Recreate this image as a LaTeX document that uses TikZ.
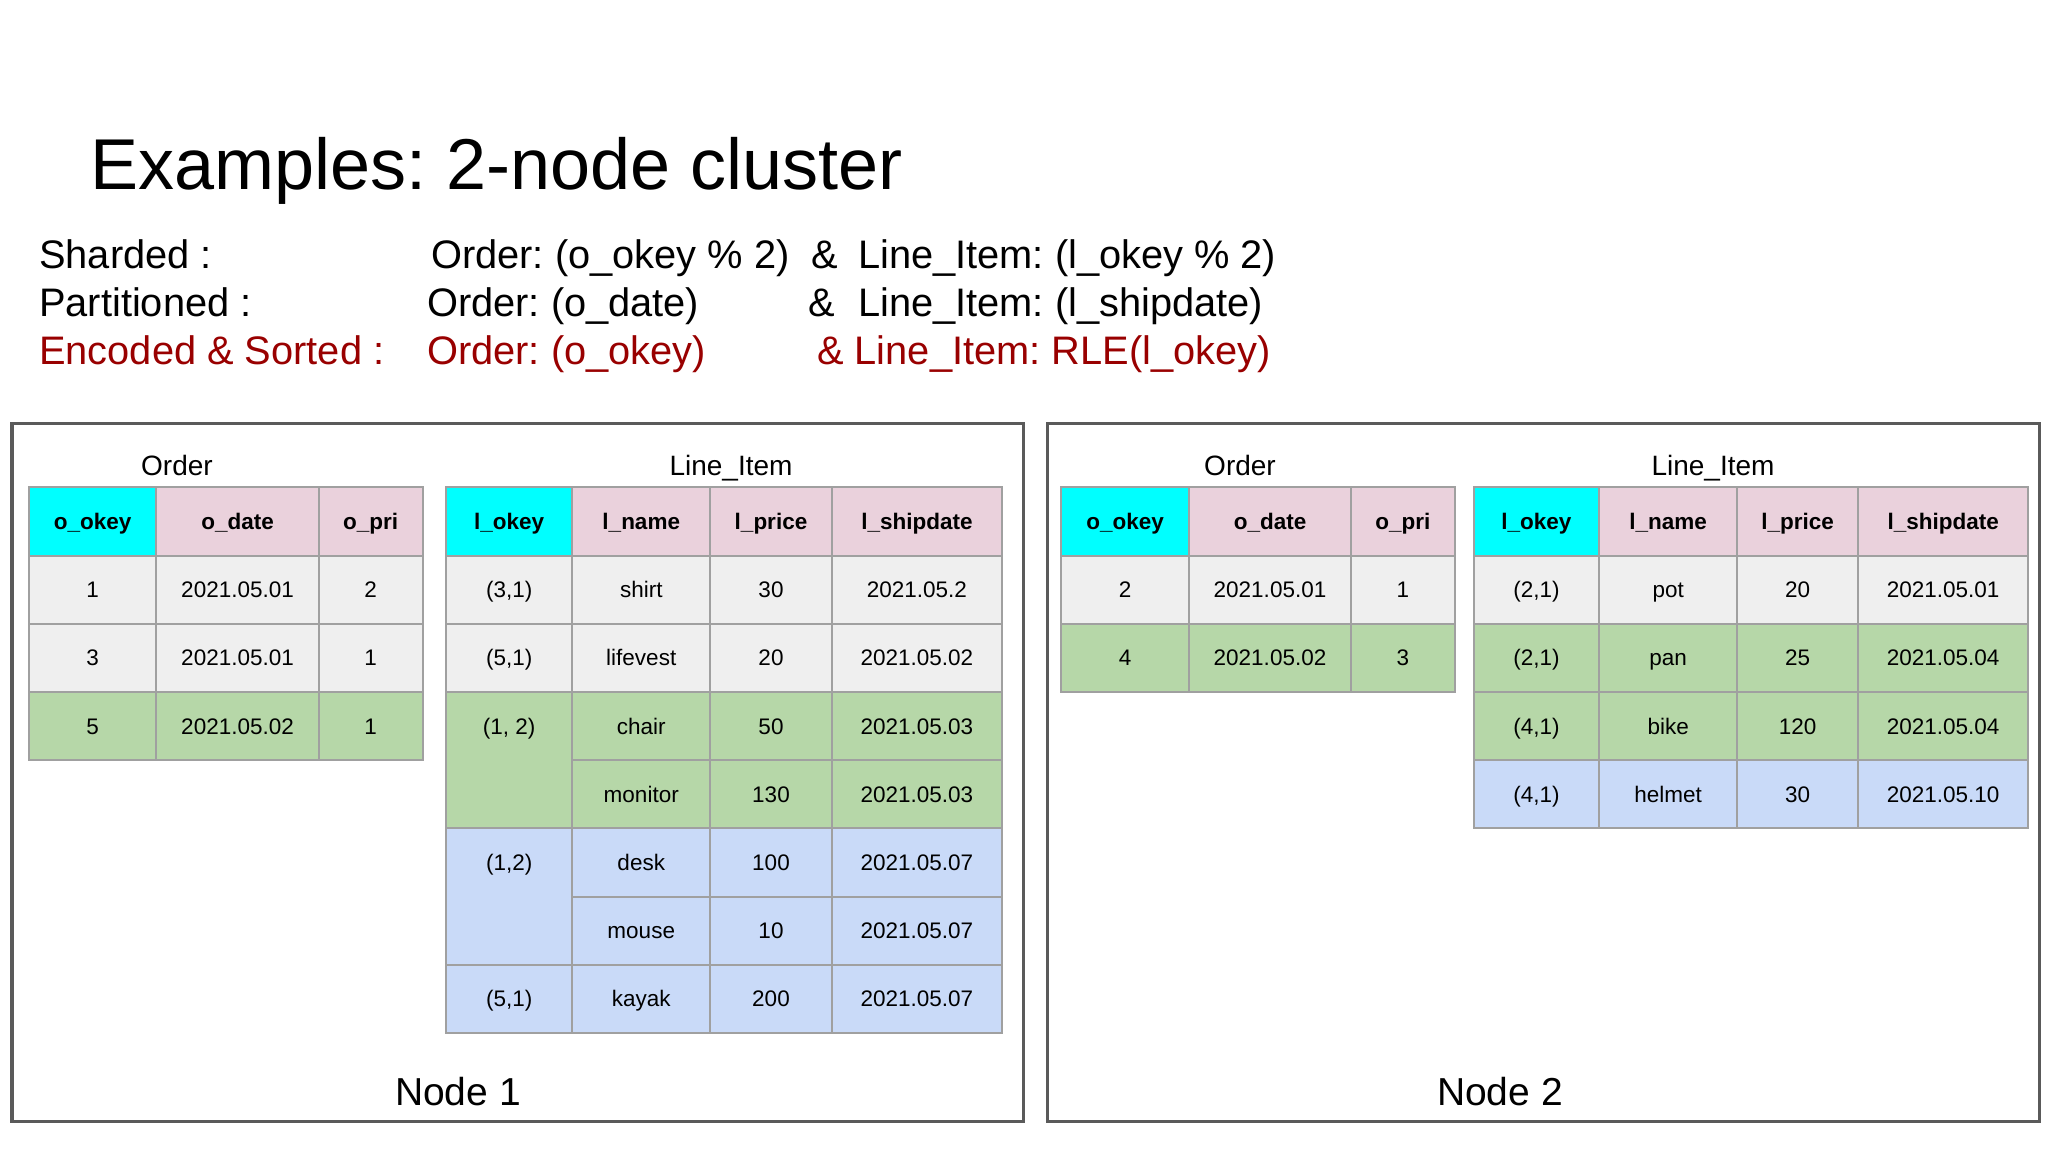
\documentclass[tikz,border=0pt]{standalone}
\usepackage{fontspec}
\setmainfont{Liberation Sans}
\frenchspacing
\definecolor{keycyan}{HTML}{00FFFF}
\definecolor{hdrpink}{HTML}{EAD1DC}
\definecolor{rowgray}{HTML}{EFEFEF}
\definecolor{rowgreen}{HTML}{B6D7A8}
\definecolor{rowblue}{HTML}{C9DAF8}
\definecolor{cellline}{HTML}{A0A0A0}
\definecolor{boxline}{HTML}{5A5A5A}
\definecolor{darkred}{HTML}{990000}
\tikzset{
  cellbox/.style={draw=cellline, line width=2pt, inner sep=0pt, text height=16.1pt, text depth=0pt,
    font=\fontsize{22.5}{27}\selectfont},
  hdrbox/.style={cellbox, font=\fontsize{22.5}{27}\selectfont\bfseries},
  celltext/.style={inner sep=0pt, text height=16.1pt, text depth=0pt, font=\fontsize{22.5}{27}\selectfont},
  nodebox/.style={draw=boxline, line width=3.5pt, fill=white, inner sep=0pt},
  titletext/.style={inner sep=0pt, anchor=base west, font=\fontsize{72}{80}\selectfont},
  subtext/.style={inner sep=0pt, anchor=base west, font=\fontsize{39.8}{46}\selectfont},
  tabletitle/.style={inner sep=0pt, anchor=base, font=\fontsize{28}{32}\selectfont},
  nodelabel/.style={inner sep=0pt, anchor=base, font=\fontsize{39}{46}\selectfont},
}
% name, xl, xr, row, nrows, style+fill, text
\newcommand{\tcell}[7]{%
  \node[#6, minimum width={(#3-#2)*1pt}, minimum height={68.2*#5*1pt}] (#1)
    at ({(#2+#3)/2},{487.3+68.2*(#4+#5/2)}) {#7};}
\newcommand{\ttext}[5]{% name, xl, xr, row, text
  \node[celltext] (#1) at ({(#2+#3)/2},{487.3+68.2*(#4+0.5)}) {#5};}
\begin{document}
\begin{tikzpicture}[x=1pt,y=-1pt]
\useasboundingbox[fill=white] (0,0) rectangle (2048,1152);

% title and subtitle lines
\node[titletext] (title) at (90,189) {Examples: 2-node cluster};
\node[subtext] (s1a) at (39,268) {Sharded :};
\node[subtext] (s1b) at (431,268) {Order: (o\_okey \% 2)};
\node[subtext] (s1c) at (811,268) {\&};
\node[subtext] (s1d) at (858,268) {Line\_Item: (l\_okey \% 2)};
\node[subtext] (s2a) at (39,316) {Partitioned :};
\node[subtext] (s2b) at (427,316) {Order: (o\_date)};
\node[subtext] (s2c) at (808,316) {\&};
\node[subtext] (s2d) at (858,316) {Line\_Item: (l\_shipdate)};
\node[subtext, text=darkred] (s3a) at (39,364) {Encoded \& Sorted :};
\node[subtext, text=darkred] (s3b) at (427,364) {Order: (o\_okey)};
\node[subtext, text=darkred] (s3c) at (817,364) {\& Line\_Item: RLE(l\_okey)};

% node boxes
\node[nodebox, minimum width=1011.8pt, minimum height=698.4pt] (box1) at (517.7,772.5) {};
\node[nodebox, minimum width=991.7pt, minimum height=698.4pt] (box2) at (1543.55,772.5) {};

% ---------- Node 1 ----------
\node[tabletitle] (n1ot) at (177,475) {Order};
\node[tabletitle] (n1lt) at (731,475) {Line\_Item};
% Order table
\tcell{n1o00}{28.9}{156.4}{0}{1}{hdrbox,fill=keycyan}{o\_okey}
\tcell{n1o01}{156.4}{318.7}{0}{1}{hdrbox,fill=hdrpink}{o\_date}
\tcell{n1o02}{318.7}{422.5}{0}{1}{hdrbox,fill=hdrpink}{o\_pri}
\tcell{n1o10}{28.9}{156.4}{1}{1}{cellbox,fill=rowgray}{1}
\tcell{n1o11}{156.4}{318.7}{1}{1}{cellbox,fill=rowgray}{2021.05.01}
\tcell{n1o12}{318.7}{422.5}{1}{1}{cellbox,fill=rowgray}{2}
\tcell{n1o20}{28.9}{156.4}{2}{1}{cellbox,fill=rowgray}{3}
\tcell{n1o21}{156.4}{318.7}{2}{1}{cellbox,fill=rowgray}{2021.05.01}
\tcell{n1o22}{318.7}{422.5}{2}{1}{cellbox,fill=rowgray}{1}
\tcell{n1o30}{28.9}{156.4}{3}{1}{cellbox,fill=rowgreen}{5}
\tcell{n1o31}{156.4}{318.7}{3}{1}{cellbox,fill=rowgreen}{2021.05.02}
\tcell{n1o32}{318.7}{422.5}{3}{1}{cellbox,fill=rowgreen}{1}
% Line_Item table
\tcell{n1l00}{446}{572.3}{0}{1}{hdrbox,fill=keycyan}{l\_okey}
\tcell{n1l01}{572.3}{710.2}{0}{1}{hdrbox,fill=hdrpink}{l\_name}
\tcell{n1l02}{710.2}{831.8}{0}{1}{hdrbox,fill=hdrpink}{l\_price}
\tcell{n1l03}{831.8}{1002}{0}{1}{hdrbox,fill=hdrpink}{l\_shipdate}
\tcell{n1l10}{446}{572.3}{1}{1}{cellbox,fill=rowgray}{(3,1)}
\tcell{n1l11}{572.3}{710.2}{1}{1}{cellbox,fill=rowgray}{shirt}
\tcell{n1l12}{710.2}{831.8}{1}{1}{cellbox,fill=rowgray}{30}
\tcell{n1l13}{831.8}{1002}{1}{1}{cellbox,fill=rowgray}{2021.05.2}
\tcell{n1l20}{446}{572.3}{2}{1}{cellbox,fill=rowgray}{(5,1)}
\tcell{n1l21}{572.3}{710.2}{2}{1}{cellbox,fill=rowgray}{lifevest}
\tcell{n1l22}{710.2}{831.8}{2}{1}{cellbox,fill=rowgray}{20}
\tcell{n1l23}{831.8}{1002}{2}{1}{cellbox,fill=rowgray}{2021.05.02}
\tcell{n1l30}{446}{572.3}{3}{2}{cellbox,fill=rowgreen}{}
\ttext{n1l30t}{446}{572.3}{3}{(1, 2)}
\tcell{n1l31}{572.3}{710.2}{3}{1}{cellbox,fill=rowgreen}{chair}
\tcell{n1l32}{710.2}{831.8}{3}{1}{cellbox,fill=rowgreen}{50}
\tcell{n1l33}{831.8}{1002}{3}{1}{cellbox,fill=rowgreen}{2021.05.03}
\tcell{n1l41}{572.3}{710.2}{4}{1}{cellbox,fill=rowgreen}{monitor}
\tcell{n1l42}{710.2}{831.8}{4}{1}{cellbox,fill=rowgreen}{130}
\tcell{n1l43}{831.8}{1002}{4}{1}{cellbox,fill=rowgreen}{2021.05.03}
\tcell{n1l50}{446}{572.3}{5}{2}{cellbox,fill=rowblue}{}
\ttext{n1l50t}{446}{572.3}{5}{(1,2)}
\tcell{n1l51}{572.3}{710.2}{5}{1}{cellbox,fill=rowblue}{desk}
\tcell{n1l52}{710.2}{831.8}{5}{1}{cellbox,fill=rowblue}{100}
\tcell{n1l53}{831.8}{1002}{5}{1}{cellbox,fill=rowblue}{2021.05.07}
\tcell{n1l61}{572.3}{710.2}{6}{1}{cellbox,fill=rowblue}{mouse}
\tcell{n1l62}{710.2}{831.8}{6}{1}{cellbox,fill=rowblue}{10}
\tcell{n1l63}{831.8}{1002}{6}{1}{cellbox,fill=rowblue}{2021.05.07}
\tcell{n1l70}{446}{572.3}{7}{1}{cellbox,fill=rowblue}{(5,1)}
\tcell{n1l71}{572.3}{710.2}{7}{1}{cellbox,fill=rowblue}{kayak}
\tcell{n1l72}{710.2}{831.8}{7}{1}{cellbox,fill=rowblue}{200}
\tcell{n1l73}{831.8}{1002}{7}{1}{cellbox,fill=rowblue}{2021.05.07}
\node[nodelabel] (n1lab) at (458,1105) {Node 1};

% ---------- Node 2 ----------
\node[tabletitle] (n2ot) at (1240,475) {Order};
\node[tabletitle] (n2lt) at (1713,475) {Line\_Item};
\tcell{n2o00}{1061.2}{1189}{0}{1}{hdrbox,fill=keycyan}{o\_okey}
\tcell{n2o01}{1189}{1351}{0}{1}{hdrbox,fill=hdrpink}{o\_date}
\tcell{n2o02}{1351}{1454.5}{0}{1}{hdrbox,fill=hdrpink}{o\_pri}
\tcell{n2o10}{1061.2}{1189}{1}{1}{cellbox,fill=rowgray}{2}
\tcell{n2o11}{1189}{1351}{1}{1}{cellbox,fill=rowgray}{2021.05.01}
\tcell{n2o12}{1351}{1454.5}{1}{1}{cellbox,fill=rowgray}{1}
\tcell{n2o20}{1061.2}{1189}{2}{1}{cellbox,fill=rowgreen}{4}
\tcell{n2o21}{1189}{1351}{2}{1}{cellbox,fill=rowgreen}{2021.05.02}
\tcell{n2o22}{1351}{1454.5}{2}{1}{cellbox,fill=rowgreen}{3}
\tcell{n2l00}{1473.8}{1599}{0}{1}{hdrbox,fill=keycyan}{l\_okey}
\tcell{n2l01}{1599}{1737.3}{0}{1}{hdrbox,fill=hdrpink}{l\_name}
\tcell{n2l02}{1737.3}{1858}{0}{1}{hdrbox,fill=hdrpink}{l\_price}
\tcell{n2l03}{1858}{2028.4}{0}{1}{hdrbox,fill=hdrpink}{l\_shipdate}
\tcell{n2l10}{1473.8}{1599}{1}{1}{cellbox,fill=rowgray}{(2,1)}
\tcell{n2l11}{1599}{1737.3}{1}{1}{cellbox,fill=rowgray}{pot}
\tcell{n2l12}{1737.3}{1858}{1}{1}{cellbox,fill=rowgray}{20}
\tcell{n2l13}{1858}{2028.4}{1}{1}{cellbox,fill=rowgray}{2021.05.01}
\tcell{n2l20}{1473.8}{1599}{2}{1}{cellbox,fill=rowgreen}{(2,1)}
\tcell{n2l21}{1599}{1737.3}{2}{1}{cellbox,fill=rowgreen}{pan}
\tcell{n2l22}{1737.3}{1858}{2}{1}{cellbox,fill=rowgreen}{25}
\tcell{n2l23}{1858}{2028.4}{2}{1}{cellbox,fill=rowgreen}{2021.05.04}
\tcell{n2l30}{1473.8}{1599}{3}{1}{cellbox,fill=rowgreen}{(4,1)}
\tcell{n2l31}{1599}{1737.3}{3}{1}{cellbox,fill=rowgreen}{bike}
\tcell{n2l32}{1737.3}{1858}{3}{1}{cellbox,fill=rowgreen}{120}
\tcell{n2l33}{1858}{2028.4}{3}{1}{cellbox,fill=rowgreen}{2021.05.04}
\tcell{n2l40}{1473.8}{1599}{4}{1}{cellbox,fill=rowblue}{(4,1)}
\tcell{n2l41}{1599}{1737.3}{4}{1}{cellbox,fill=rowblue}{helmet}
\tcell{n2l42}{1737.3}{1858}{4}{1}{cellbox,fill=rowblue}{30}
\tcell{n2l43}{1858}{2028.4}{4}{1}{cellbox,fill=rowblue}{2021.05.10}
\node[nodelabel] (n2lab) at (1500,1105) {Node 2};
\end{tikzpicture}
\end{document}
